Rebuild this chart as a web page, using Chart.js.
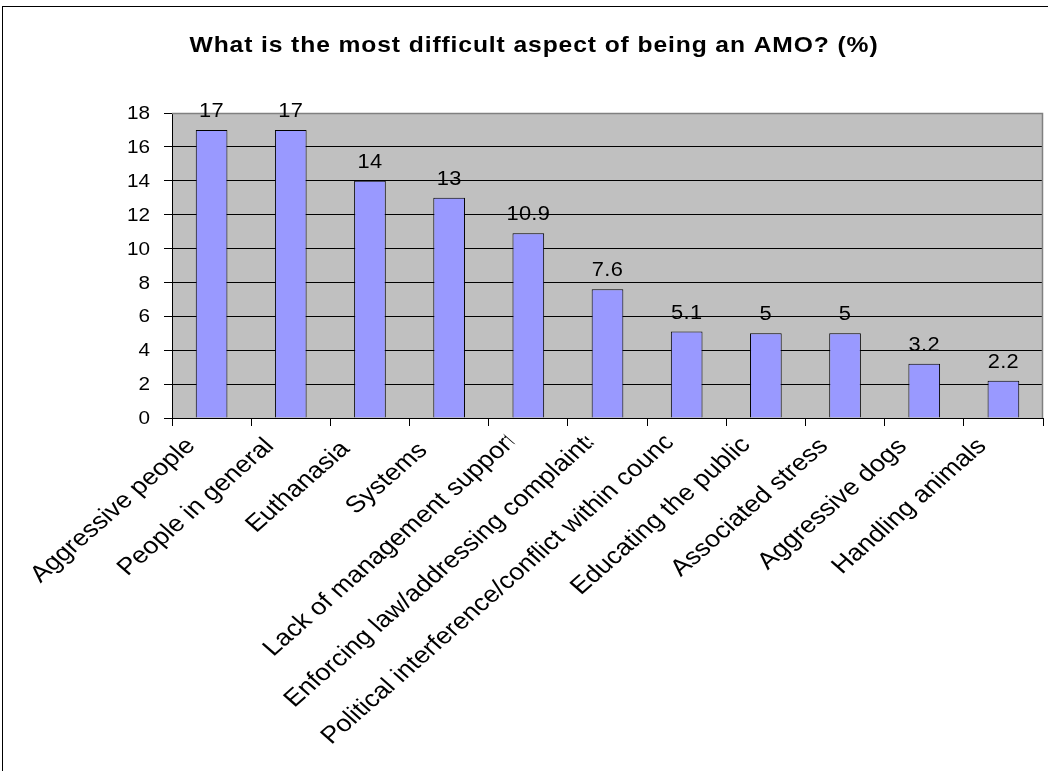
<!DOCTYPE html>
<html>
<head>
<meta charset="utf-8">
<title>What is the most difficult aspect of being an AMO? (%)</title>
<script src="https://cdn.jsdelivr.net/npm/chart.js@4.4.1/dist/chart.umd.min.js"></script>
<style>
  html, body { margin: 0; padding: 0; background: #ffffff; }
  canvas { display: block; }
</style>
</head>
<body>
<canvas id="chart" width="1048" height="771"></canvas>
<script>
// Survey answers, in the order they appear along the category axis
const categories = [
  'Aggressive people',
  'People in general',
  'Euthanasia',
  'Systems',
  'Lack of management support',
  'Enforcing law/addressing complaints',
  'Political interference/conflict within council',
  'Educating the public',
  'Associated stress',
  'Aggressive dogs',
  'Handling animals'
];

// Share of respondents (%)
const percentages = [17, 17, 14, 13, 10.9, 7.6, 5.1, 5, 5, 3.2, 2.2];

// Value axis ticks
const valueTicks = [0, 2, 4, 6, 8, 10, 12, 14, 16, 18];

const titleText = 'What is the most difficult aspect of being an AMO? (%)';

const FONT = '"Liberation Sans", Arial, Helvetica, sans-serif';
// lettering is drawn slightly widened
const WIDEN = 1.12;
const LABEL_WIDEN = 1.14;

function wideText(ctx, text, x, y) {
  ctx.save();
  ctx.translate(x, y);
  ctx.scale(WIDEN, 1);
  ctx.fillText(text, 0, 0);
  ctx.restore();
}

// Frame, plot background, title, axis numbers, bar values and slanted category names
const decorations = {
  id: 'decorations',
  beforeDraw(chart) {
    const { ctx, chartArea: a } = chart;
    ctx.save();
    ctx.fillStyle = '#ffffff';
    ctx.fillRect(0, 0, chart.width, chart.height);
    // outer chart border
    ctx.strokeStyle = '#000000';
    ctx.lineWidth = 1;
    ctx.strokeRect(2.5, 6.5, chart.width + 20, chart.height + 20);
    // plot area fill
    ctx.fillStyle = '#C0C0C0';
    ctx.fillRect(a.left, a.top, a.right - a.left, a.bottom - a.top);
    // title
    ctx.fillStyle = '#000000';
    ctx.font = 'bold 22px ' + FONT;
    ctx.letterSpacing = '0.8px';
    ctx.textAlign = 'center';
    ctx.textBaseline = 'alphabetic';
    wideText(ctx, titleText, 534, 52);
    ctx.restore();
  },
  beforeDatasetsDraw(chart) {
    const { ctx, chartArea: a } = chart;
    ctx.save();
    ctx.strokeStyle = '#808080';
    ctx.lineWidth = 1.5;
    ctx.beginPath();
    ctx.moveTo(a.left, a.top + 0.5);
    ctx.lineTo(a.right - 0.5, a.top + 0.5);
    ctx.lineTo(a.right - 0.5, a.bottom);
    ctx.stroke();
    ctx.restore();
  },
  afterDatasetsDraw(chart) {
    const { ctx } = chart;
    const meta = chart.getDatasetMeta(0);
    const ys = chart.scales.y;
    const xs = chart.scales.x;

    // value axis numbers
    ctx.save();
    ctx.fillStyle = '#000000';
    ctx.font = '18.5px ' + FONT;
    ctx.textAlign = 'right';
    ctx.textBaseline = 'middle';
    valueTicks.forEach(v => {
      wideText(ctx, String(v), ys.right - 22, ys.getPixelForValue(v) + 1);
    });
    ctx.restore();

    // bar values
    ctx.save();
    ctx.fillStyle = '#000000';
    ctx.font = '19.5px ' + FONT;
    ctx.letterSpacing = '0.3px';
    ctx.textAlign = 'center';
    ctx.textBaseline = 'alphabetic';
    meta.data.forEach((bar, i) => {
      wideText(ctx, String(percentages[i]), bar.x, bar.y - 13);
    });
    ctx.restore();

    // category names, slanted at 45 degrees and clipped where they run past the axis band
    const drawSize = 23.5;
    const layoutSize = 22;
    const clipMargin = 15.5;
    ctx.save();
    ctx.fillStyle = '#000000';
    ctx.textAlign = 'left';
    ctx.textBaseline = 'top';
    categories.forEach((name, i) => {
      const cx = xs.getPixelForValue(i);
      const ax = cx - 40;
      const ay = xs.top + 24.5;
      ctx.font = layoutSize + 'px ' + FONT;
      const wLayout = ctx.measureText(name).width;
      ctx.save();
      ctx.translate(ax, ay);
      ctx.scale(LABEL_WIDEN, 1);
      ctx.rotate(-Math.PI / 4);
      ctx.beginPath();
      ctx.rect(-2000, -60, 2000 + clipMargin, 200);
      ctx.clip();
      ctx.font = drawSize + 'px ' + FONT;
      ctx.fillText(name, -wLayout, 0);
      ctx.restore();
    });
    ctx.restore();
  }
};

new Chart(document.getElementById('chart'), {
  type: 'bar',
  data: {
    labels: categories,
    datasets: [{
      data: percentages,
      backgroundColor: '#9999FF',
      borderColor: '#000000',
      borderWidth: 1,
      borderSkipped: 'bottom',
      barPercentage: 0.4,
      categoryPercentage: 1.0
    }]
  },
  options: {
    responsive: false,
    animation: false,
    devicePixelRatio: 1,
    layout: { padding: { left: 0, right: 5, top: 113, bottom: 0 } },
    plugins: {
      legend: { display: false },
      title: { display: false },
      tooltip: { enabled: false }
    },
    scales: {
      x: {
        type: 'category',
        offset: true,
        grid: {
          offset: true,
          drawOnChartArea: false,
          drawTicks: true,
          tickLength: 8,
          tickColor: '#000000',
          lineWidth: 1
        },
        border: { color: '#000000', width: 1 },
        ticks: { display: false },
        afterFit(scale) { scale.height = 353; }
      },
      y: {
        min: 0,
        max: 18,
        afterBuildTicks(scale) { scale.ticks = valueTicks.map(v => ({ value: v })); },
        grid: {
          color: ctx => (ctx.tick && ctx.tick.value === 18) ? '#808080' : '#000000',
          tickColor: '#000000',
          tickLength: 8,
          lineWidth: 1
        },
        border: { color: '#000000', width: 1 },
        ticks: { display: false },
        afterFit(scale) { scale.width = 172; }
      }
    }
  },
  plugins: [decorations]
});
</script>
</body>
</html>
